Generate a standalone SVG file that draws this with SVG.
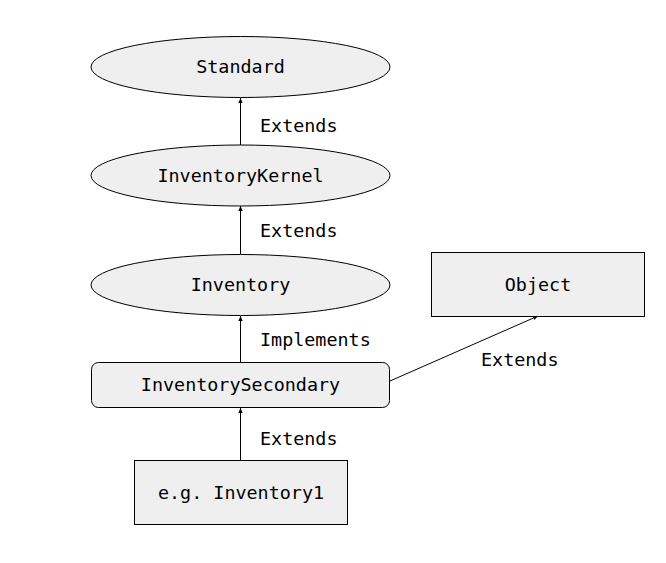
<svg xmlns="http://www.w3.org/2000/svg" width="666" height="563" viewBox="0 0 666 563">
<style>
.n{fill:#efefef;stroke:#000;stroke-width:1}
.t{font-family:"DejaVu Sans Mono","Liberation Mono",monospace;font-size:18.4px;fill:#000;text-anchor:middle}
.l{font-family:"DejaVu Sans Mono","Liberation Mono",monospace;font-size:18.4px;fill:#000}
.e{stroke:#000;stroke-width:1;fill:none;marker-end:url(#a)}
</style>
<defs>
<marker id="a" markerWidth="6" markerHeight="6" refX="5" refY="3" orient="auto" markerUnits="userSpaceOnUse">
<path d="M0,0.8 L5,3 L0,5.2 Z" fill="#000"/>
</marker>
</defs>
<rect width="666" height="563" fill="#fff"/>
<g id="connectors">
<line class="e" x1="240.5" y1="145" x2="240.5" y2="98"/>
<line class="e" x1="240.5" y1="254" x2="240.5" y2="206"/>
<line class="e" x1="240.5" y1="362" x2="240.5" y2="316"/>
<line class="e" x1="240.5" y1="460" x2="240.5" y2="408"/>
<line class="e" x1="390" y1="381" x2="538" y2="316"/>
<text class="l" x="260" y="132">Extends</text>
<text class="l" x="260" y="237">Extends</text>
<text class="l" x="260" y="346">Implements</text>
<text class="l" x="481" y="366">Extends</text>
<text class="l" x="260" y="445">Extends</text>
</g>
<g id="standard">
<ellipse class="n" cx="240.5" cy="67" rx="149.5" ry="30.5"/>
<text class="t" x="240.5" y="73">Standard</text>
</g>
<g id="inventorykernel">
<ellipse class="n" cx="240.5" cy="175.5" rx="149.5" ry="30.5"/>
<text class="t" x="240.5" y="181.5">InventoryKernel</text>
</g>
<g id="inventory">
<ellipse class="n" cx="240.5" cy="285" rx="149.5" ry="30.5"/>
<text class="t" x="240.5" y="291">Inventory</text>
</g>
<g id="object">
<rect class="n" x="431.5" y="252.5" width="213" height="64"/>
<text class="t" x="538" y="291">Object</text>
</g>
<g id="inventorysecondary">
<rect class="n" x="91.5" y="362.5" width="298" height="45" rx="7"/>
<text class="t" x="240.5" y="391">InventorySecondary</text>
</g>
<g id="inventory1">
<rect class="n" x="134.5" y="460.5" width="213" height="64"/>
<text class="t" x="241" y="499">e.g. Inventory1</text>
</g>
</svg>
